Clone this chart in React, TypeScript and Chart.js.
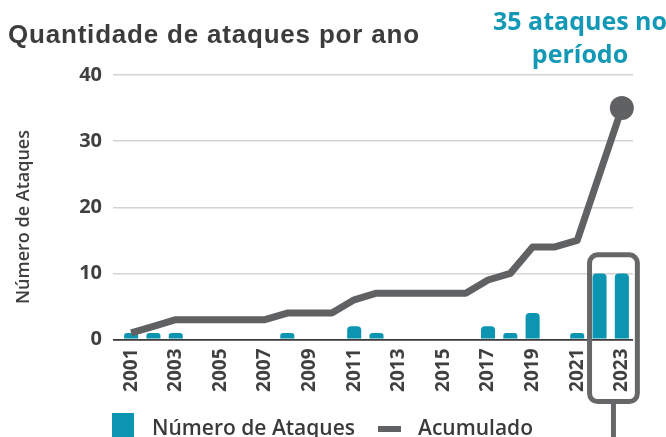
import React, { useEffect, useRef } from "react";
import { Chart, registerables } from "chart.js";

Chart.register(...registerables);

const years = [
  "2001", "2002", "2003", "2004", "2005", "2006", "2007", "2008", "2009", "2010",
  "2011", "2012", "2013", "2014", "2015", "2016", "2017", "2018", "2019", "2020",
  "2021", "2022", "2023",
];
const attacksPerYear = [1, 1, 1, 0, 0, 0, 0, 1, 0, 0, 2, 1, 0, 0, 0, 0, 2, 1, 4, 0, 1, 10, 10];
const cumulative = [1, 2, 3, 3, 3, 3, 3, 4, 4, 4, 6, 7, 7, 7, 7, 7, 9, 10, 14, 14, 15, 25, 35];
const yTickValues = [0, 10, 20, 30, 40];
const highlightFrom = "2022";
const highlightTo = "2023";
const highlightTopValue = 12.8;

const TEAL = "#0b95b1";
const GREY = "#606163";
const TEXT = "#404040";

const calloutPlugin = {
  id: "callout",
  afterDatasetsDraw(chart: any) {
    const xs = chart.scales.x;
    const ys = chart.scales.y;
    const ctx = chart.ctx;
    const i1 = years.indexOf(highlightFrom);
    const i2 = years.indexOf(highlightTo);
    const left = xs.getPixelForValue(i1) - 10;
    const right = xs.getPixelForValue(i2) + 15.5;
    const top = ys.getPixelForValue(highlightTopValue);
    const bottom = chart.chartArea.bottom + 62;
    const r = 8;
    ctx.save();
    ctx.strokeStyle = "#666768";
    ctx.lineWidth = 5;
    ctx.beginPath();
    ctx.moveTo(left + r, top);
    ctx.lineTo(right - r, top);
    ctx.arcTo(right, top, right, top + r, r);
    ctx.lineTo(right, bottom - r);
    ctx.arcTo(right, bottom, right - r, bottom, r);
    ctx.lineTo(left + r, bottom);
    ctx.arcTo(left, bottom, left, bottom - r, r);
    ctx.lineTo(left, top + r);
    ctx.arcTo(left, top, left + r, top, r);
    ctx.closePath();
    ctx.stroke();
    const cx = (left + right) / 2;
    ctx.beginPath();
    ctx.moveTo(cx, bottom + 2);
    ctx.lineTo(cx, chart.height + 5);
    ctx.stroke();
    ctx.restore();
  },
};

export default function App() {
  const canvasRef = useRef<HTMLCanvasElement | null>(null);

  useEffect(() => {
    const canvas = canvasRef.current;
    if (!canvas) return;
    const lastIdx = cumulative.length - 1;
    const chart = new Chart(canvas, {
      type: "bar",
      data: {
        labels: years,
        datasets: [
          {
            type: "line",
            label: "Acumulado",
            data: cumulative,
            borderColor: GREY,
            backgroundColor: GREY,
            borderWidth: 7,
            borderJoinStyle: "round",
            tension: 0,
            pointRadius: (c: any) => (c.dataIndex === lastIdx ? 12 : 0),
            pointHoverRadius: 0,
            pointBackgroundColor: GREY,
            pointBorderWidth: 0,
            clip: false,
            order: 0,
          } as any,
          {
            type: "bar",
            label: "Número de Ataques",
            data: attacksPerYear,
            backgroundColor: TEAL,
            borderRadius: 4,
            borderSkipped: "start",
            categoryPercentage: 1,
            barPercentage: 0.63,
            order: 1,
          } as any,
        ],
      },
      options: {
        responsive: false,
        animation: false,
        events: [],
        layout: { padding: { top: 75, right: 33, left: 0, bottom: 0 } },
        plugins: {
          legend: { display: false },
          tooltip: { enabled: false },
          title: { display: false },
        },
        scales: {
          x: {
            offset: true,
            grid: { display: false, drawTicks: false },
            border: { display: false },
            afterFit: (s: any) => {
              s.height = 97.5;
            },
            ticks: {
              autoSkip: false,
              minRotation: 90,
              maxRotation: 90,
              padding: 9,
              color: TEXT,
              font: { family: "'Open Sans'", size: 19, weight: "bold" },
              callback: (_v: any, i: number) => (i % 2 === 0 ? years[i] : null),
            },
          },
          y: {
            min: 0,
            max: 40,
            afterFit: (s: any) => {
              s.width = 120;
            },
            afterBuildTicks: (s: any) => {
              s.ticks = yTickValues.map((v) => ({ value: v }));
            },
            border: { display: false },
            grid: {
              drawTicks: true,
              tickLength: 7,
              color: (c: any) => (c.tick && c.tick.value === 0 ? "#3a3a3a" : "#d4d4d4"),
              lineWidth: (c: any) => (c.tick && c.tick.value === 0 ? 1.8 : 1.5),
            },
            ticks: {
              padding: 11,
              color: TEXT,
              font: { family: "'Open Sans'", size: 20, weight: "bold" },
            },
            title: {
              display: false,
            },
          },
        },
      },
      plugins: [calloutPlugin],
    });
    return () => chart.destroy();
  }, []);

  return (
    <div
      style={{
        position: "fixed",
        left: 0,
        top: 0,
        width: 666,
        height: 437,
        overflow: "hidden",
        background: "#ffffff",
      }}
    >
      <canvas
        ref={canvasRef}
        width={666}
        height={437}
        style={{ position: "absolute", left: 0, top: 0, width: 666, height: 437 }}
      />
      <div
        style={{
          position: "absolute",
          left: 22,
          top: 217,
          transform: "translate(-50%, -50%) rotate(-90deg)",
          fontFamily: "'Open Sans', sans-serif",
          fontWeight: 600,
          fontSize: 18,
          lineHeight: "22px",
          color: "#3e3e3e",
          whiteSpace: "nowrap",
        }}
      >
        Número de Ataques
      </div>
      <div
        style={{
          position: "absolute",
          left: 8,
          top: 21,
          fontFamily: "'Liberation Sans', Arial, sans-serif",
          fontWeight: "bold",
          fontSize: 26,
          lineHeight: "26px",
          letterSpacing: "0.8px",
          color: "#3c3c3c",
          whiteSpace: "nowrap",
        }}
      >
        Quantidade de ataques por ano
      </div>
      <div
        style={{
          position: "absolute",
          left: 480,
          width: 200,
          top: 4,
          textAlign: "center",
          fontFamily: "'Open Sans', sans-serif",
          fontWeight: "bold",
          fontSize: 25,
          lineHeight: "33px",
          color: "#1399b6",
          whiteSpace: "nowrap",
        }}
      >
        <div>35 ataques no</div>
        <div>período</div>
      </div>
      <div
        style={{
          position: "absolute",
          left: 112,
          top: 413,
          width: 22,
          height: 26,
          background: TEAL,
        }}
      />
      <div
        style={{
          position: "absolute",
          left: 152,
          top: 417,
          fontFamily: "'Open Sans', sans-serif",
          fontWeight: 600,
          fontSize: 21,
          lineHeight: "21px",
          color: "#3a3a3a",
          whiteSpace: "nowrap",
        }}
      >
        Número de Ataques
      </div>
      <div
        style={{
          position: "absolute",
          left: 378,
          top: 426,
          width: 23,
          height: 6,
          background: GREY,
        }}
      />
      <div
        style={{
          position: "absolute",
          left: 418,
          top: 417,
          fontFamily: "'Open Sans', sans-serif",
          fontWeight: 600,
          fontSize: 21,
          lineHeight: "21px",
          color: "#3a3a3a",
          whiteSpace: "nowrap",
        }}
      >
        Acumulado
      </div>
    </div>
  );
}
